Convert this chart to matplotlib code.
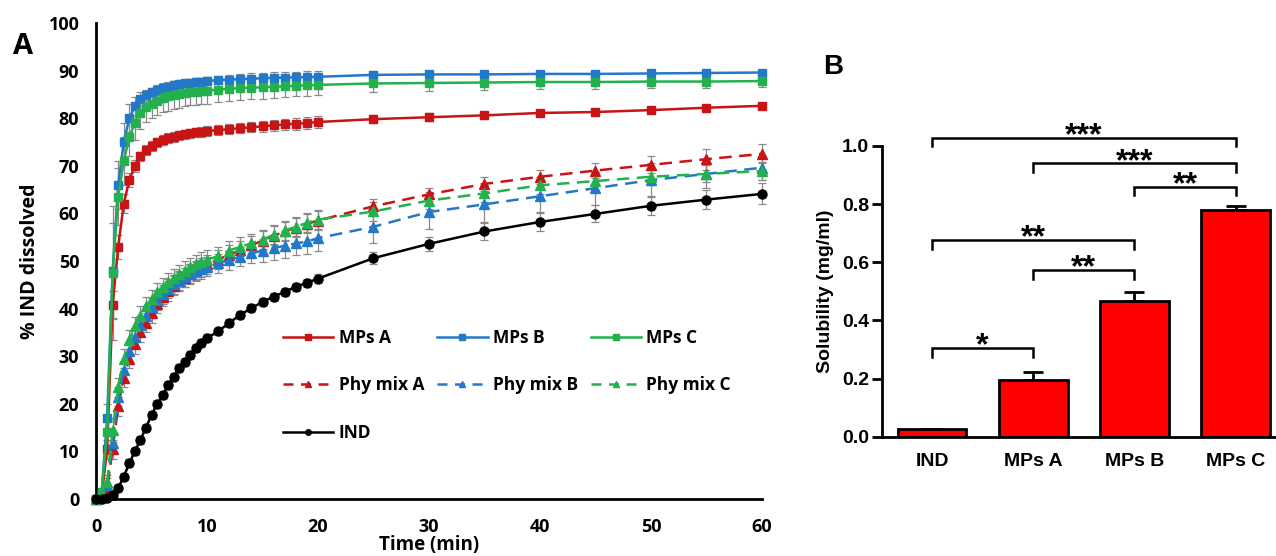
import numpy as np
import matplotlib
matplotlib.use('Agg')
import matplotlib.pyplot as plt
from matplotlib.lines import Line2D

# ---- panel A data: % IND dissolved vs time ----
time_min = [0, 0.5, 1, 1.5, 2, 2.5, 3, 3.5, 4, 4.5, 5, 5.5, 6, 6.5, 7, 7.5, 8, 8.5, 9, 9.5, 10,
            11, 12, 13, 14, 15, 16, 17, 18, 19, 20, 25, 30, 35, 40, 45, 50, 55, 60]

mps_a = [0, 0.5, 10.5, 40.8, 53, 62, 67, 70, 72, 73.3, 74.2, 74.9, 75.4, 75.8, 76.1, 76.4, 76.6, 76.8, 77.0, 77.1, 77.3,
         77.5, 77.7, 77.9, 78.1, 78.3, 78.5, 78.7, 78.8, 79.0, 79.2, 79.8, 80.2, 80.6, 81.1, 81.3, 81.7, 82.2, 82.6]
mps_a_err = [0, 0.3, 2, 3, 2.5, 2, 1.5, 1.2, 1, 1, 1, 1, 1, 1, 1, 1, 1, 1, 1, 1, 1,
             1, 1, 1, 1, 1.1, 1.1, 1.1, 1.2, 1.2, 1.2, 0.8, 0.8, 0.7, 0.7, 0.7, 0.6, 0.6, 0.6]

mps_b = [0, 1, 17, 48, 66, 75, 80, 82.5, 84, 84.8, 85.4, 85.9, 86.3, 86.6, 86.9, 87.1, 87.3, 87.5, 87.6, 87.7, 87.8,
         88.0, 88.1, 88.2, 88.3, 88.4, 88.5, 88.5, 88.6, 88.6, 88.7, 89.1, 89.2, 89.2, 89.3, 89.3, 89.4, 89.5, 89.6]
mps_b_err = [0, 0.5, 3, 10, 5, 4, 3, 2, 1.5, 1.2, 1, 1, 1, 0.9, 0.9, 0.8, 0.8, 0.8, 0.8, 0.8, 0.8,
             0.9, 1, 1, 1.1, 1.1, 1.2, 1.2, 1.2, 1.3, 1.3, 0.8, 0.8, 0.7, 0.7, 0.6, 0.6, 0.6, 0.5]

mps_c = [0, 1.5, 14, 47.5, 63.5, 71, 76, 79, 81, 82.3, 83, 83.7, 84.2, 84.6, 84.9, 85.1, 85.3, 85.5, 85.6, 85.7, 85.8,
         86.0, 86.2, 86.3, 86.4, 86.5, 86.6, 86.7, 86.8, 86.9, 87.0, 87.3, 87.4, 87.5, 87.6, 87.6, 87.7, 87.7, 87.8]
mps_c_err = [0, 0.5, 3, 14, 6, 5, 4, 3.5, 3.2, 3, 3, 3, 3, 3, 3, 3, 2.8, 2.8, 2.8, 2.8, 2.8,
             2.6, 2.5, 2.5, 2.4, 2.4, 2.3, 2.3, 2.2, 2.2, 2.2, 1.8, 1.6, 1.5, 1.5, 1.4, 1.4, 1.3, 1.3]

phy_a = [0, 0.5, 2, 10.5, 19.5, 25.5, 29.5, 32.5, 35, 37, 39, 41, 42.5, 43.7, 44.8, 45.7, 46.5, 47.3, 48, 48.7, 49.3,
         50.3, 51.3, 52.3, 53.3, 54.3, 55.3, 56.2, 57, 57.8, 58.5, 61.5, 64, 66.2, 67.7, 69, 70.2, 71.4, 72.5]
phy_a_err = [0, 0.3, 1, 2, 2, 2, 2, 2, 2, 2, 2, 2, 2, 2, 2, 2, 2, 2, 2, 2, 2,
             2, 2, 2, 2, 2, 2, 2, 2, 2, 2, 1.5, 1.3, 1.5, 1.5, 1.5, 1.8, 2.2, 2.0]

phy_b = [0, 1, 3, 11.7, 21.5, 27, 31, 34, 36.5, 38.5, 40.3, 41.8, 43, 44.2, 45.1, 45.9, 46.6, 47.2, 47.8, 48.3, 48.8,
         49.5, 50.2, 50.9, 51.6, 52.2, 52.7, 53.2, 53.7, 54.1, 54.8, 57.2, 60.3, 61.9, 63.6, 65.3, 67, 68.3, 69.6]
phy_b_err = [0, 0.5, 1.5, 2, 2, 2, 2, 2, 2, 2, 2, 2, 2, 2, 2, 2, 2, 2, 2, 2, 2,
             2, 2, 2, 2, 2.5, 2.5, 2.5, 2.5, 2.7, 2.8, 3.5, 3.5, 3.8, 3.6, 3.5, 3.5, 3.0, 2.5]

phy_c = [0, 1.5, 3.5, 14.5, 23.5, 29.5, 33.5, 36.3, 38.5, 40.5, 42, 43.4, 44.5, 45.5, 46.4, 47.2, 48, 48.7, 49.3, 49.8, 50.3,
         51, 52.2, 53, 53.7, 54.5, 55.5, 56.4, 57.2, 58, 58.7, 60.4, 62.7, 64.2, 65.9, 66.8, 67.7, 68.3, 68.9]
phy_c_err = [0, 0.5, 1.5, 2.5, 2, 2, 2, 2, 2, 2, 2, 2, 2, 2, 2, 2, 2, 2, 2, 2, 2,
             2, 2, 2, 2, 2, 2, 2, 2, 2, 2, 2, 1.8, 1.8, 1.8, 1.8, 1.8, 1.8, 1.8]

ind = [0, 0, 0.3, 0.8, 2.3, 4.7, 7.5, 10, 12.4, 15, 17.6, 20, 21.8, 24, 25.7, 27.5, 28.8, 30.2, 31.7, 32.8, 33.8,
       35.2, 37, 38.7, 40.1, 41.4, 42.5, 43.5, 44.6, 45.4, 46.3, 50.6, 53.6, 56.2, 58.2, 59.9, 61.6, 62.9, 64.1]
ind_err = [0, 0, 0.2, 0.3, 0.5, 0.7, 0.8, 0.8, 0.8, 0.8, 0.8, 0.8, 0.8, 0.8, 0.8, 0.8, 0.8, 0.8, 0.8, 0.8, 0.8,
           0.8, 0.8, 0.8, 0.8, 0.8, 0.8, 0.8, 0.8, 0.8, 0.9, 1.2, 1.5, 1.8, 2.0, 1.8, 2.0, 2.0, 2.2]

# ---- panel B data: solubility ----
formulations = ['IND', 'MPs A', 'MPs B', 'MPs C']
solubility = [0.026, 0.195, 0.468, 0.780]
solubility_err = [0.0, 0.028, 0.030, 0.015]
# significance brackets: (left bar, right bar, height, label)
sig_pairs = [(0, 3, 1.029, '***'), (1, 3, 0.940, '***'), (2, 3, 0.860, '**'),
             (0, 2, 0.677, '**'), (1, 2, 0.573, '**'), (0, 1, 0.304, '*')]

RED = '#C81414'
BLUE = '#2378C8'
GREEN = '#22B14C'
GREY = '#8a8a8a'

W, H = 1276, 556
fig = plt.figure(figsize=(W / 100, H / 100), dpi=100)

# ================= panel A =================
fa = ['Open Sans', 'DejaVu Sans']
axA = fig.add_axes([96 / W, 1 - 499 / H, (762 - 96) / W, (499 - 23) / H])

series = [
    (mps_a, mps_a_err, RED, '-', 's', 'MPs A'),
    (mps_b, mps_b_err, BLUE, '-', 's', 'MPs B'),
    (mps_c, mps_c_err, GREEN, '-', 's', 'MPs C'),
    (phy_a, phy_a_err, RED, '--', '^', 'Phy mix A'),
    (phy_b, phy_b_err, BLUE, '--', '^', 'Phy mix B'),
    (phy_c, phy_c_err, GREEN, '--', '^', 'Phy mix C'),
    (ind, ind_err, 'black', '-', 'o', 'IND'),
]

handles = {}
for vals, err, col, ls, mk, lab in series:
    axA.errorbar(time_min, vals, yerr=err, fmt='none', ecolor=GREY, elinewidth=0.9,
                 capsize=3, capthick=0.9, zorder=2, clip_on=False)
    axA.plot(time_min, vals, color=col, ls=ls, lw=1.8, marker=mk,
             ms=6.5 if mk != 's' else 6, mfc=col, mec=col, zorder=3,
             dashes=(5, 3) if ls == '--' else (None, None), clip_on=False)
    handles[lab] = Line2D([], [], color=col, ls=ls, lw=1.8, marker=mk, ms=4, mfc=col, mec=col,
                          dashes=(4, 3) if ls == '--' else (None, None))

axA.set_xlim(0, 60)
axA.set_ylim(0, 100)
axA.set_xticks([0, 10, 20, 30, 40, 50, 60])
axA.set_yticks(range(0, 101, 10))
for s in ['top', 'right']:
    axA.spines[s].set_visible(False)
for s in ['left', 'bottom']:
    axA.spines[s].set_linewidth(2)
axA.tick_params(axis='both', length=0)
axA.tick_params(axis='x', pad=14)
axA.tick_params(axis='y', pad=12)
for lab in axA.get_xticklabels() + axA.get_yticklabels():
    lab.set_fontfamily(fa)
    lab.set_fontsize(13)
    lab.set_fontweight('bold')
axA.set_xlabel('Time (min)', family=fa, fontsize=13.5, fontweight='bold', labelpad=-1)
axA.set_ylabel('% IND dissolved', family=fa, fontsize=14, fontweight='bold', labelpad=6)

blank = Line2D([], [], alpha=0)
order = ['MPs A', 'Phy mix A', 'IND', 'MPs B', 'Phy mix B', None, 'MPs C', 'Phy mix C', None]
leg_h = [handles[k] if k else blank for k in order]
leg_l = [k if k else '' for k in order]
axA.legend(leg_h, leg_l, ncol=3, loc='upper left', bbox_to_anchor=(0.281, 0.358),
           frameon=False, prop={'family': fa, 'weight': 'bold', 'size': 12.5},
           handlelength=2.9, handletextpad=0.3, columnspacing=0.75, labelspacing=1.72,
           borderpad=0, borderaxespad=0)

fig.text(23 / W, 1 - 46 / H, 'A', family=fa, fontsize=21, fontweight='bold', ha='center', va='center')

# ================= panel B =================
fb = ['Liberation Sans', 'DejaVu Sans']
axB = fig.add_axes([881.5 / W, 1 - 436.7 / H, (W - 881.5) / W, (436.7 - 146) / H])
xpos = np.arange(len(formulations))
axB.bar(xpos, solubility, width=0.68, color='#FF0000', edgecolor='black', linewidth=2, zorder=2)
axB.errorbar(xpos, solubility, yerr=[np.zeros(len(solubility)), solubility_err], fmt='none',
             ecolor='black', elinewidth=2, capsize=7, capthick=2, zorder=1)
axB.set_xlim(-0.5, 3.4)
axB.set_ylim(0, 1.0)
axB.set_yticks([0, 0.2, 0.4, 0.6, 0.8, 1.0])
axB.set_yticklabels(['0.0', '0.2', '0.4', '0.6', '0.8', '1.0'])
axB.set_xticks(xpos)
axB.set_xticklabels(formulations)
for s in ['top', 'right']:
    axB.spines[s].set_visible(False)
for s in ['left', 'bottom']:
    axB.spines[s].set_linewidth(2)
axB.tick_params(axis='y', length=7, width=2, pad=2)
axB.tick_params(axis='x', length=0, pad=12)
for lab in axB.get_xticklabels() + axB.get_yticklabels():
    lab.set_fontfamily(fb)
    lab.set_fontsize(14)
    lab.set_fontweight('bold')
axB.set_ylabel('Solubility (mg/ml)', family=fb, fontsize=14, fontweight='bold', labelpad=6)

drop = 0.03
for i, j, y, txt in sig_pairs:
    axB.plot([i, i, j, j], [y - drop, y, y, y - drop], color='black', lw=1.8,
             clip_on=False, solid_joinstyle='miter')
    axB.text((i + j) / 2, y - 0.022, txt, family=fb, fontsize=23, fontweight='bold',
             ha='center', va='baseline')

fig.text(833 / W, 1 - 67 / H, 'B', family=fb, fontsize=20, fontweight='bold', ha='center', va='center')

fig.savefig('out.png', dpi=100)
